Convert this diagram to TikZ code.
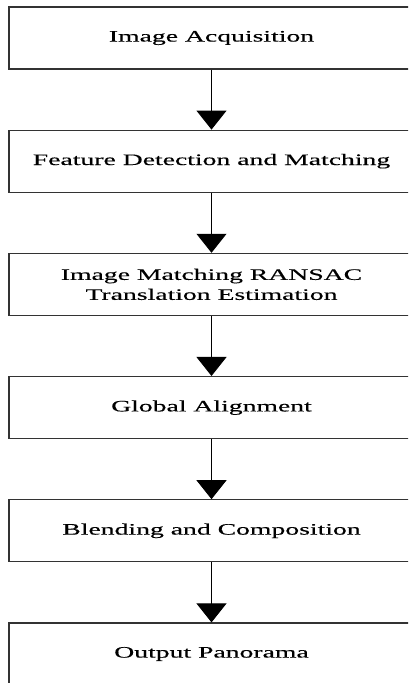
\documentclass[tikz,border=0pt]{standalone}
\usepackage{fontspec}
\setmainfont[FakeStretch=1.73,FakeBold=0.3]{Liberation Serif}
\usetikzlibrary{arrows.meta}
\begin{document}
\begin{tikzpicture}[x=1pt,y=1pt,
  stagebox/.style={draw=black!80, line width=1.2pt, rectangle,
    minimum width=405pt, minimum height=62pt, inner sep=0pt,
    align=center, font=\fontsize{16}{20}\selectfont},
  flowarrow/.style={line width=0.9pt, -{Triangle[width=30pt,length=19pt]}}]
  \useasboundingbox (0,0) rectangle (408,683);
  \clip (0,0) rectangle (408,683);
  % stage boxes, top to bottom (pitch 123.2pt)
  \node[stagebox] (acq)   at (211.5,645) {Image Acquisition};
  \node[stagebox] (feat)  at (211.5,521.8) {Feature Detection and Matching};
  \node[stagebox] (match) at (211.5,398.6) {Image Matching RANSAC\\Translation Estimation};
  \node[stagebox] (glob)  at (211.5,275.4) {Global Alignment};
  \node[stagebox] (blend) at (211.5,152.2) {Blending and Composition};
  \node[stagebox] (out)   at (211.5,29) {Output Panorama};
  % connectors
  \draw[flowarrow] (acq.south) -- (feat.north);
  \draw[flowarrow] (feat.south) -- (match.north);
  \draw[flowarrow] (match.south) -- (glob.north);
  \draw[flowarrow] (glob.south) -- (blend.north);
  \draw[flowarrow] (blend.south) -- (out.north);
\end{tikzpicture}
\end{document}
